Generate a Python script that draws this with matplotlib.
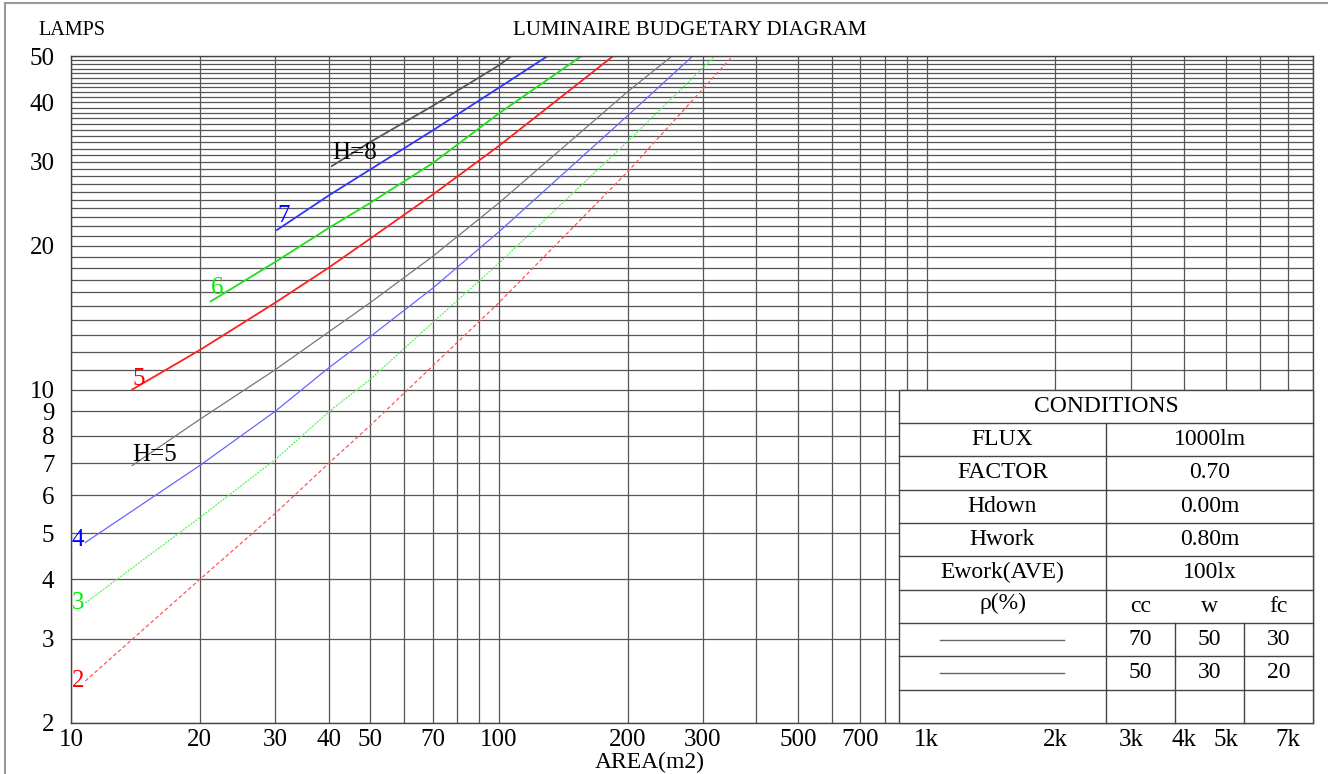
import matplotlib.pyplot as plt
from matplotlib.lines import Line2D
from matplotlib.patches import Rectangle
from matplotlib.ticker import FixedLocator, FixedFormatter, NullFormatter

plt.rcParams['font.family'] = ['Liberation Serif', 'DejaVu Serif']

# lower set (thin, second reflectance set)
h2_area = [10.8, 20, 30, 40, 50, 70, 100, 200, 352]
h2_lamps = [2.45, 4.0, 5.5, 7.0, 8.4, 11.2, 15.2, 28.6, 50]
h3_area = [10.8, 20, 30, 40, 50, 70, 100, 200, 320]
h3_lamps = [3.57, 5.39, 7.13, 8.97, 10.5, 13.8, 18.4, 33.1, 50]
h4_area = [10.8, 20, 30, 40, 50, 70, 100, 200, 284]
h4_lamps = [4.78, 6.93, 9.0, 11.1, 12.9, 16.3, 21.4, 37.5, 50]
h5_area = [13.9, 20, 30, 40, 50, 70, 100, 200, 254]
h5_lamps = [6.93, 8.66, 11.0, 13.2, 15.2, 19.0, 24.6, 42.1, 50]

# upper set (thick)
u5_area = [13.9, 20, 30, 40, 50, 70, 100, 185]
u5_lamps = [10.0, 12.1, 15.2, 18.0, 20.7, 25.6, 32.4, 50]
u6_area = [21.2, 30, 40, 50, 70, 100, 156]
u6_lamps = [15.3, 18.5, 21.8, 24.6, 29.8, 37.9, 50]
u7_area = [30.3, 40, 50, 70, 100, 130]
u7_lamps = [21.6, 25.5, 28.9, 34.9, 42.9, 50]
u8_area = [40.7, 50, 70, 100, 107]
u8_lamps = [29.4, 33.0, 39.3, 47.8, 50]

x_major = [10, 20, 30, 40, 50, 70, 100, 200, 300, 500, 700, 1000, 2000, 3000, 4000, 5000, 7000]
x_labels = ['10', '20', '30', '40', '50', '70', '100', '200', '300', '500', '700',
            '1k', '2k', '3k', '4k', '5k', '7k']
x_minor = [60, 80, 90, 400, 600, 800, 900, 6000, 8000]
y_major = [2, 3, 4, 5, 6, 7, 8, 9, 10, 20, 30, 40, 50]
y_minor = [v for v in range(11, 50) if v % 10 != 0]

cond_names = ['FLUX', 'FACTOR', 'Hdown', 'Hwork', 'Ework(AVE)']
cond_values = ['1000lm', '0.70', '0.00m', '0.80m', '100lx']
refl_head = ['cc', 'w', 'fc']
refl_rows = [['70', '50', '30'], ['50', '30', '20']]

fig = plt.figure(figsize=(13.28, 7.74), dpi=100)
ax = fig.add_axes([0.0535, 0.0659, 0.9352, 0.8617])
ax.set_xscale('log')
ax.set_yscale('log')
ax.set_xlim(10, 8000)
ax.set_ylim(2, 50)

ax.xaxis.set_major_locator(FixedLocator(x_major))
ax.xaxis.set_major_formatter(FixedFormatter(x_labels))
ax.xaxis.set_minor_locator(FixedLocator(x_minor))
ax.xaxis.set_minor_formatter(NullFormatter())
ax.yaxis.set_major_locator(FixedLocator(y_major))
ax.yaxis.set_major_formatter(FixedFormatter([str(v) for v in y_major]))
ax.yaxis.set_minor_locator(FixedLocator(y_minor))
ax.yaxis.set_minor_formatter(NullFormatter())
ax.tick_params(which='both', length=0, labelsize=18)
ax.tick_params(axis='y', pad=12)
ax.tick_params(axis='x', pad=4)
ax.grid(which='both', color='#555555', lw=0.9)
ax.set_axisbelow(True)
for s in ax.spines.values():
    s.set_color('#444444')
    s.set_linewidth(1.0)

# thin lower curves
ax.plot(h2_area, h2_lamps, color='#ff5555', lw=0.9, dashes=(3, 2))
ax.plot(h3_area, h3_lamps, color='#55ee55', lw=0.9, dashes=(1.5, 1))
ax.plot(h4_area, h4_lamps, color='#6666ff', lw=0.9)
ax.plot(h5_area, h5_lamps, color='#777777', lw=0.9)
# thick upper curves
ax.plot(u5_area, u5_lamps, color='#ff2020', lw=1.3)
ax.plot(u6_area, u6_lamps, color='#22dd22', lw=1.3)
ax.plot(u7_area, u7_lamps, color='#3333ff', lw=1.3)
ax.plot(u8_area, u8_lamps, color='#555555', lw=1.3)

lab = dict(fontsize=18, va='center', ha='left')
ax.text(10.05, 2.45, '2', color='#ff0000', **lab)
ax.text(10.05, 3.57, '3', color='#00ee00', **lab)
ax.text(10.05, 4.83, '4', color='#0000ff', **lab)
ax.text(13.9, 7.3, 'H=5', color='black', **lab)
ax.text(13.9, 10.5, '5', color='#ff0000', **lab)
ax.text(21.2, 16.3, '6', color='#00ee00', **lab)
ax.text(30.3, 23.1, '7', color='#0000ff', **lab)
ax.text(40.7, 31.3, 'H=8', color='black', **lab)

# conditions table
tr = ax.transAxes
ax.add_patch(Rectangle((2 / 3, 0), 1 / 3, 0.5, transform=tr, facecolor='white',
                       edgecolor='#444444', lw=1.0, zorder=5, clip_on=False))
tline = dict(transform=tr, color='#444444', lw=1.0, zorder=6, clip_on=False)
for i in range(1, 10):
    ax.plot([2 / 3, 1], [0.05 * i, 0.05 * i], **tline)
ax.plot([5 / 6, 5 / 6], [0, 0.45], **tline)
for xc in [5 / 6 + 1 / 18, 5 / 6 + 2 / 18]:
    ax.plot([xc, xc], [0, 0.15], **tline)


def row_y(i):
    return 0.5 - 0.05 * (i + 0.5)


tt = dict(transform=tr, ha='center', va='center', fontsize=17, zorder=7)
ax.text(5 / 6, row_y(0), 'CONDITIONS', **tt)
for i, (n, v) in enumerate(zip(cond_names, cond_values)):
    ax.text(0.75, row_y(i + 1), n, **tt)
    ax.text(11 / 12, row_y(i + 1), v, **tt)
ax.text(0.75, row_y(6) + 0.005, 'ρ(%)', **tt)
sub_x = [5 / 6 + 1 / 36, 5 / 6 + 3 / 36, 5 / 6 + 5 / 36]
for xc, h in zip(sub_x, refl_head):
    ax.text(xc, row_y(6), h, **tt)
for r, row in enumerate(refl_rows):
    ax.plot([0.6997, 0.7995], [row_y(7 + r), row_y(7 + r)], transform=tr,
            color='#666666', lw=1.0, zorder=7, clip_on=False)
    for xc, v in zip(sub_x, row):
        ax.text(xc, row_y(7 + r), v, **tt)

fig.text(0.5196, 0.960, 'LUMINAIRE BUDGETARY DIAGRAM', ha='center', va='center', fontsize=15)
fig.text(0.029, 0.960, 'LAMPS', ha='left', va='center', fontsize=14.5)
fig.text(0.489, 0.0155, 'AREA(m2)', ha='center', va='center', fontsize=17)

# page border
fig.add_artist(Line2D([5 / 1328, 5 / 1328], [0, 1 - 3 / 774], transform=fig.transFigure,
                      color='#999999', lw=1.5))
fig.add_artist(Line2D([5 / 1328, 1], [1 - 3 / 774, 1 - 3 / 774], transform=fig.transFigure,
                      color='#999999', lw=1.5))

fig.savefig('out.png', dpi=100)
